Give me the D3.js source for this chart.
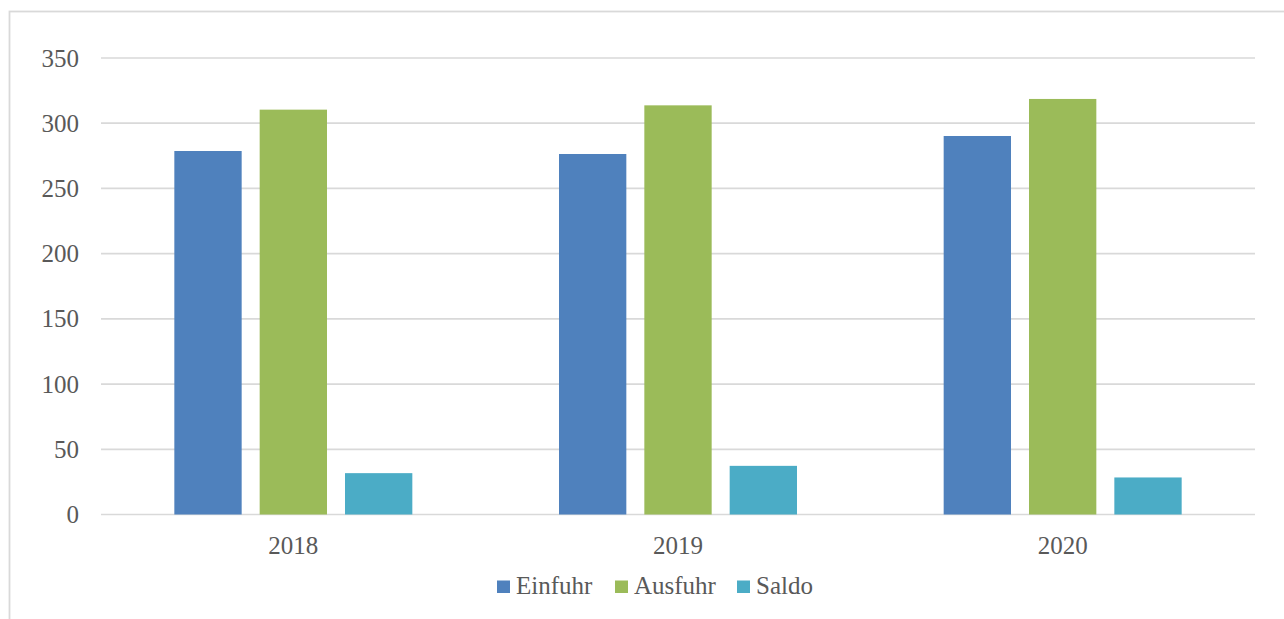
<!DOCTYPE html>
<html>
<head>
<meta charset="utf-8">
<script src="https://cdn.jsdelivr.net/npm/d3@7"></script>
<style>
  html, body { margin: 0; padding: 0; background: #ffffff; }
  svg { display: block; }
</style>
</head>
<body>
<svg id="chart" width="1284" height="619"></svg>
<script>
// Trade figures per year
const years = ["2018", "2019", "2020"];
const seriesNames = ["Einfuhr", "Ausfuhr", "Saldo"];
const einfuhr = [278.7, 276.4, 290.2];
const ausfuhr = [310.4, 313.7, 318.6];
const saldo = [31.7, 37.3, 28.4];
const yTicks = [0, 50, 100, 150, 200, 250, 300, 350];
const colors = ["#4f81bd", "#9bbb59", "#4bacc6"];

const seriesValues = [einfuhr, ausfuhr, saldo];
const rows = years.map((y, i) => ({
  year: y,
  values: seriesNames.map((s, k) => ({ key: s, value: seriesValues[k][i] }))
}));

const W = 1284, H = 619;
const plot = { left: 101, right: 1255, top: 58, bottom: 514.5 };
const FONT = "'Liberation Serif', 'DejaVu Serif', serif";
const FONT_SIZE = 25;
const TEXT = "#595959";
const GRID = "#d9d9d9";

const svg = d3.select("#chart");

// Chart frame
svg.append("rect")
  .attr("x", 9.5).attr("y", 11.5)
  .attr("width", W + 20).attr("height", H + 20)
  .attr("fill", "none").attr("stroke", GRID).attr("stroke-width", 1.8);

const y = d3.scaleLinear().domain([0, 350]).range([plot.bottom, plot.top]);
const x0 = d3.scaleBand().domain(years).range([plot.left, plot.right]).padding(0);
const groupW = 238;
const x1 = d3.scaleBand().domain(seriesNames).range([0, groupW]).paddingInner(0.211).paddingOuter(0);

// Horizontal gridlines
svg.append("g").selectAll("line").data(yTicks).join("line")
  .attr("x1", plot.left).attr("x2", plot.right)
  .attr("y1", d => y(d)).attr("y2", d => y(d))
  .attr("stroke", GRID).attr("stroke-width", 1.7);

// Y axis labels
const yAxis = d3.axisLeft(y).tickValues(yTicks).tickSize(0).tickPadding(0);
const yg = svg.append("g").attr("transform", `translate(79,0)`).call(yAxis);
yg.select(".domain").remove();
yg.selectAll("text")
  .attr("font-family", FONT).attr("font-size", FONT_SIZE).attr("fill", TEXT);

// Bars
const groups = svg.append("g").selectAll("g").data(rows).join("g")
  .attr("transform", d => `translate(${x0(d.year) + (x0.bandwidth() - groupW) / 2},0)`);
groups.selectAll("rect").data(d => d.values).join("rect")
  .attr("x", d => x1(d.key))
  .attr("width", x1.bandwidth())
  .attr("y", d => y(d.value))
  .attr("height", d => y(0) - y(d.value))
  .attr("fill", (d, i) => colors[i]);

// X axis labels
const xAxis = d3.axisBottom(x0).tickSize(0).tickPadding(0);
const xg = svg.append("g").attr("transform", `translate(0,${plot.bottom + 22})`).call(xAxis);
xg.select(".domain").remove();
xg.selectAll("text")
  .attr("font-family", FONT).attr("font-size", FONT_SIZE).attr("fill", TEXT);

// Legend
const legendX = [497, 615, 737];
const legend = svg.append("g").selectAll("g").data(seriesNames).join("g")
  .attr("transform", (d, i) => `translate(${legendX[i]},580.5)`);
legend.append("rect").attr("width", 13).attr("height", 12.5).attr("fill", (d, i) => colors[i]);
legend.append("text")
  .attr("x", 19).attr("y", 13.5)
  .attr("font-family", FONT).attr("font-size", FONT_SIZE).attr("fill", TEXT)
  .text(d => d);
</script>
</body>
</html>
